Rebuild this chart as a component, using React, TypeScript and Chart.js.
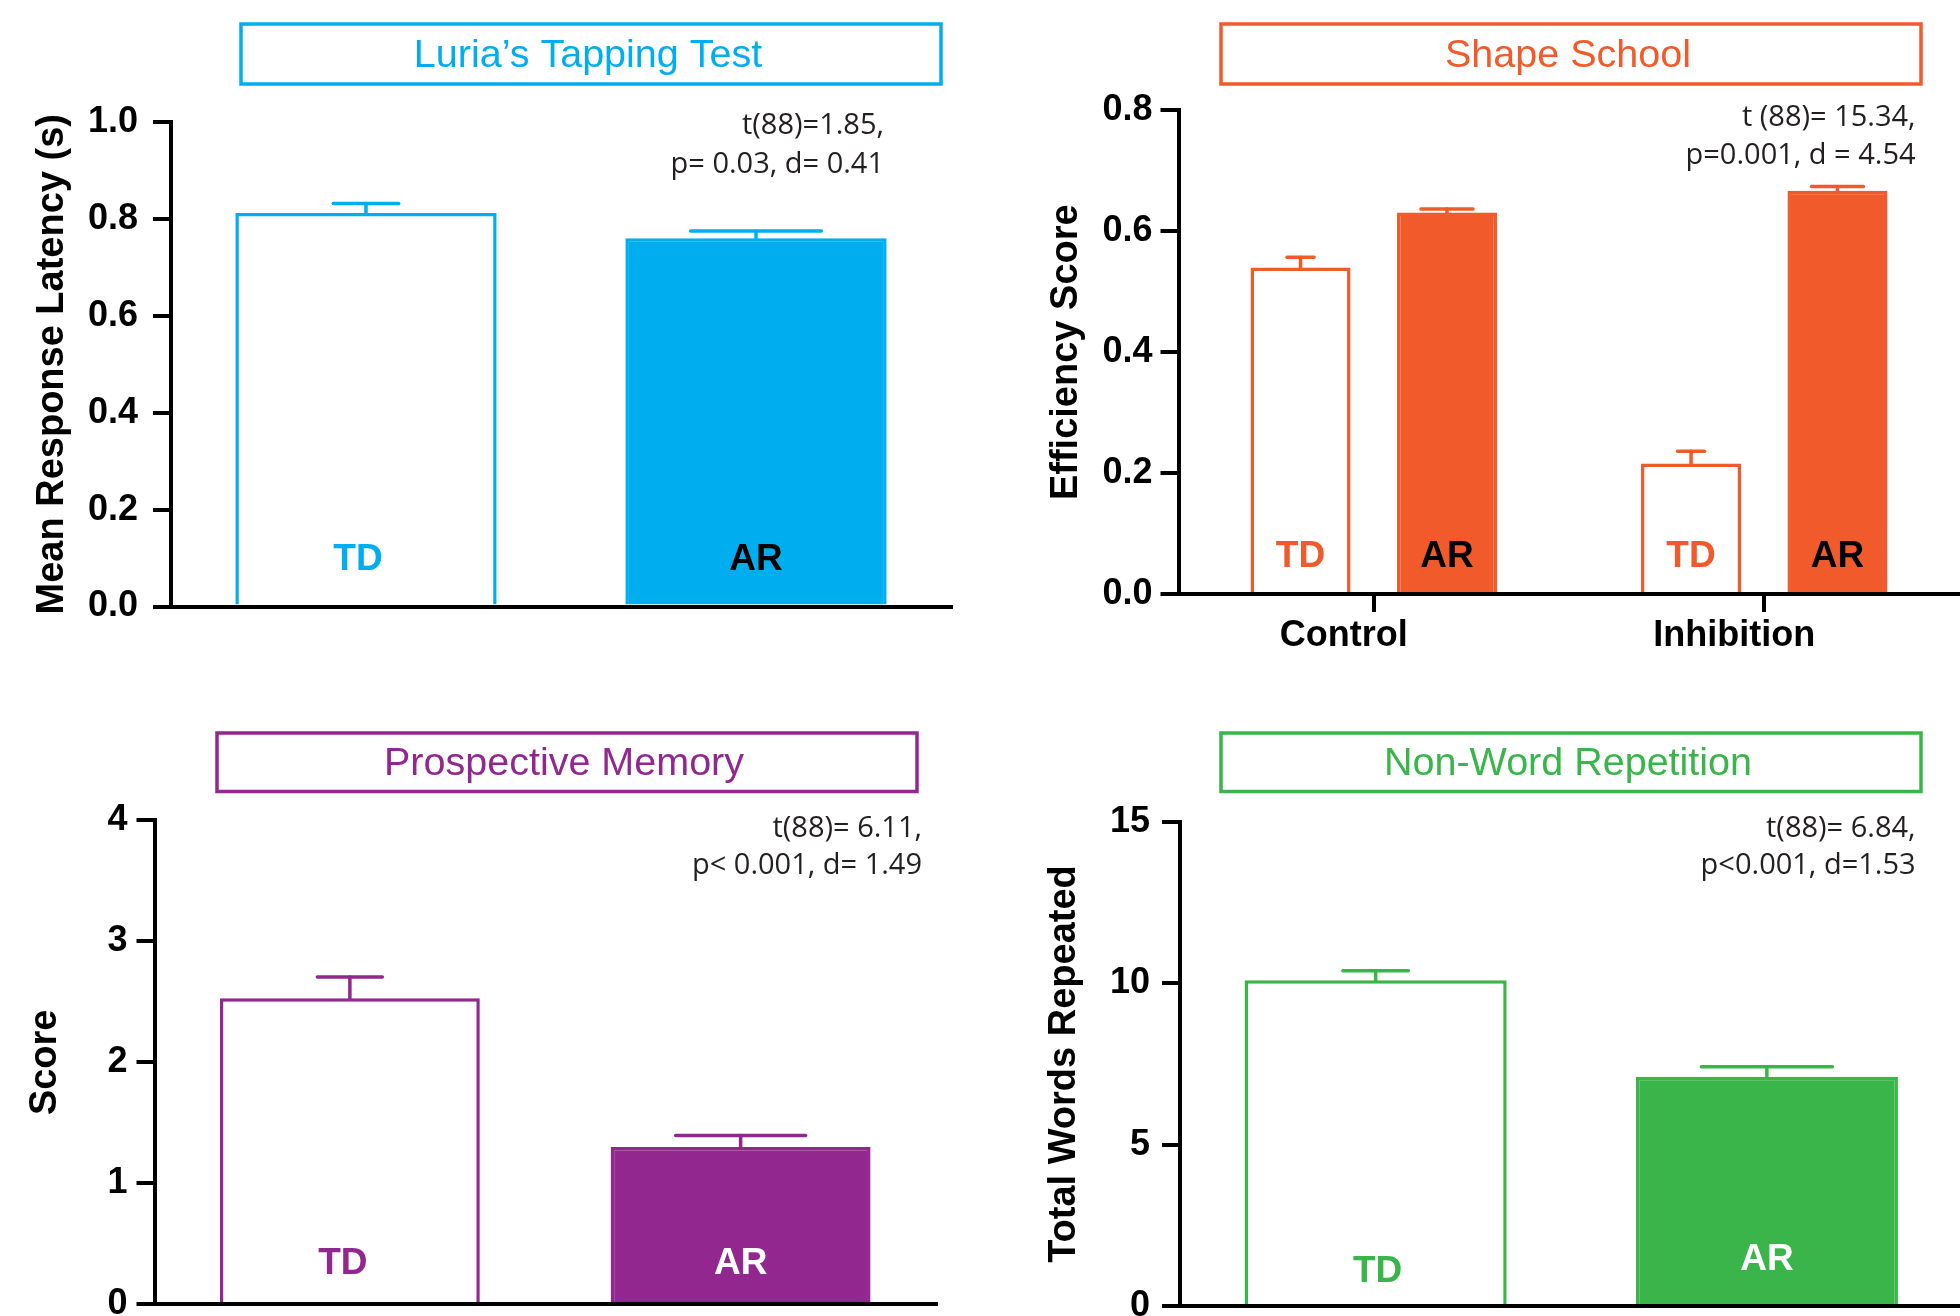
import React, { useEffect, useRef } from 'react';
import { Chart, registerables } from 'chart.js';

Chart.register(...registerables);

const FONT = '"Liberation Sans", Arial, Helvetica, sans-serif';
const STAT_FONT = '"Open Sans", "Noto Sans", sans-serif';

// ---------- data ----------
const groups = ['TD', 'AR'];

const luriaMeans = [0.812, 0.76];
const luriaSE = [0.02, 0.015];
const luriaTicks = ['0.0', '0.2', '0.4', '0.6', '0.8', '1.0'];
const luriaStats = ['t(88)=1.85,', 'p= 0.03, d= 0.41'];

const shapeConditions = ['Control', 'Inhibition'];
const shapeTD = [0.54, 0.216];
const shapeTDSE = [0.017, 0.02];
const shapeAR = [0.631, 0.667];
const shapeARSE = [0.006, 0.007];
const shapeTicks = ['0.0', '0.2', '0.4', '0.6', '0.8'];
const shapeStats = ['t (88)= 15.34,', 'p=0.001, d = 4.54'];

const pmMeans = [2.53, 1.3];
const pmSE = [0.175, 0.094];
const pmTicks = ['0', '1', '2', '3', '4'];
const pmStats = ['t(88)= 6.11,', 'p< 0.001, d= 1.49'];

const nwrMeans = [10.09, 7.11];
const nwrSE = [0.3, 0.31];
const nwrTicks = ['0', '5', '10', '15'];
const nwrStats = ['t(88)= 6.84,', 'p<0.001, d=1.53'];

// ---------- colours ----------
const BLUE = '#00AEEF';
const ORANGE = '#F15A2B';
const PURPLE = '#92278F';
const GREEN = '#39B54A';
const BLACK = '#000000';
const WHITE = '#FFFFFF';

type DS = {
  label: string;
  data: number[];
  se: number[];
  fill: string[];
  labelColor: string[];
  capFrac: number[];
  lift: number[];
  dx: number[];
};

type Panel = {
  key: string;
  pos: { left: number; top: number; width: number; height: number };
  area: { left: number; right: number; top: number; bottom: number };
  xHeight: number;
  color: string;
  title: string;
  titleBox: { x: number; y: number; w: number; h: number };
  yTitle: string;
  yTitlePad: number;
  yMin: number;
  yMax: number;
  yStep: number;
  yTickLabels: string[];
  tickPad: number;
  categories: string[];
  showCategoryAxis: boolean;
  datasets: DS[];
  barPct: number;
  catPct: number;
  stats: string[];
  statsRight: number;
  statsY: number[];
};

const panels: Panel[] = [
  {
    key: 'luria',
    pos: { left: 0, top: 0, width: 980, height: 658 },
    area: { left: 171, right: 951, top: 122, bottom: 606.5 },
    xHeight: 0,
    color: BLUE,
    title: 'Luria\u2019s Tapping Test',
    titleBox: { x: 241, y: 24, w: 700, h: 60 },
    yTitle: 'Mean Response Latency (s)',
    yTitlePad: 30,
    yMin: 0,
    yMax: 1,
    yStep: 0.2,
    yTickLabels: luriaTicks,
    tickPad: 15,
    categories: groups,
    showCategoryAxis: false,
    datasets: [
      {
        label: 'Luria',
        data: luriaMeans,
        se: luriaSE,
        fill: [WHITE, BLUE],
        labelColor: [BLUE, BLACK],
        capFrac: [0.25, 0.5],
        lift: [37, 37],
        dx: [-8, 0],
      },
    ],
    barPct: 0.67,
    catPct: 1,
    stats: luriaStats,
    statsRight: 884,
    statsY: [126, 165],
  },
  {
    key: 'shape',
    pos: { left: 980, top: 0, width: 990, height: 658 },
    area: { left: 198.5, right: 979.5, top: 110.4, bottom: 594 },
    xHeight: 64,
    color: ORANGE,
    title: 'Shape School',
    titleBox: { x: 241, y: 24, w: 700, h: 60 },
    yTitle: 'Efficiency Score',
    yTitlePad: 64,
    yMin: 0,
    yMax: 0.8,
    yStep: 0.2,
    yTickLabels: shapeTicks,
    tickPad: 8,
    categories: shapeConditions,
    showCategoryAxis: true,
    datasets: [
      {
        label: 'TD',
        data: shapeTD,
        se: shapeTDSE,
        fill: [WHITE, WHITE],
        labelColor: [ORANGE, ORANGE],
        capFrac: [0.27, 0.27],
        lift: [27, 27],
        dx: [0, 0],
      },
      {
        label: 'AR',
        data: shapeAR,
        se: shapeARSE,
        fill: [ORANGE, ORANGE],
        labelColor: [BLACK, BLACK],
        capFrac: [0.52, 0.52],
        lift: [27, 27],
        dx: [0, 0],
      },
    ],
    barPct: 0.683,
    catPct: 0.75,
    stats: shapeStats,
    statsRight: 935.6,
    statsY: [118, 155.5],
  },
  {
    key: 'pm',
    pos: { left: 0, top: 658, width: 980, height: 700 },
    area: { left: 154.5, right: 936, top: 162.4, bottom: 646.2 },
    xHeight: 0,
    color: PURPLE,
    title: 'Prospective Memory',
    titleBox: { x: 217, y: 75, w: 700, h: 58.5 },
    yTitle: 'Score',
    yTitlePad: 23,
    yMin: 0,
    yMax: 4,
    yStep: 1,
    yTickLabels: pmTicks,
    tickPad: 9,
    categories: groups,
    showCategoryAxis: false,
    datasets: [
      {
        label: 'Prospective Memory',
        data: pmMeans,
        se: pmSE,
        fill: [WHITE, PURPLE],
        labelColor: [PURPLE, WHITE],
        capFrac: [0.25, 0.5],
        lift: [30, 30],
        dx: [-7, 0],
      },
    ],
    barPct: 0.665,
    catPct: 1,
    stats: pmStats,
    statsRight: 922,
    statsY: [171, 207.7],
  },
  {
    key: 'nwr',
    pos: { left: 980, top: 658, width: 990, height: 700 },
    area: { left: 200, right: 982.5, top: 163.7, bottom: 648.4 },
    xHeight: 0,
    color: GREEN,
    title: 'Non-Word Repetition',
    titleBox: { x: 241, y: 75, w: 700, h: 58.5 },
    yTitle: 'Total Words Repeated',
    yTitlePad: 62,
    yMin: 0,
    yMax: 15,
    yStep: 5,
    yTickLabels: nwrTicks,
    tickPad: 12,
    categories: groups,
    showCategoryAxis: false,
    datasets: [
      {
        label: 'Non-Word Repetition',
        data: nwrMeans,
        se: nwrSE,
        fill: [WHITE, GREEN],
        labelColor: [GREEN, WHITE],
        capFrac: [0.25, 0.5],
        lift: [24, 36],
        dx: [2, 0],
      },
    ],
    barPct: 0.67,
    catPct: 1,
    stats: nwrStats,
    statsRight: 935.6,
    statsY: [171, 207.7],
  },
];

function buildChart(canvas: HTMLCanvasElement, p: Panel) {
  const decor = {
    id: 'decor_' + p.key,
    afterDatasetsDraw(chart: any) {
      const ctx = chart.ctx as CanvasRenderingContext2D;
      const yScale = chart.scales.y;
      ctx.save();
      p.datasets.forEach((ds, d) => {
        const meta = chart.getDatasetMeta(d);
        meta.data.forEach((el: any, i: number) => {
          const top = yScale.getPixelForValue(ds.data[i]);
          const errY = yScale.getPixelForValue(ds.data[i] + ds.se[i]);
          const capW = el.width * ds.capFrac[i];
          ctx.strokeStyle = p.color;
          ctx.lineWidth = 3.5;
          ctx.lineCap = 'round';
          ctx.beginPath();
          ctx.moveTo(el.x, top);
          ctx.lineTo(el.x, errY);
          ctx.stroke();
          ctx.beginPath();
          ctx.moveTo(el.x - capW / 2, errY);
          ctx.lineTo(el.x + capW / 2, errY);
          ctx.stroke();
          const text = p.showCategoryAxis ? ds.label : p.categories[i];
          ctx.fillStyle = ds.labelColor[i];
          ctx.font = `bold 37px ${FONT}`;
          ctx.textAlign = 'center';
          ctx.textBaseline = 'alphabetic';
          ctx.fillText(text, el.x + ds.dx[i], yScale.bottom - ds.lift[i]);
        });
      });
      ctx.restore();
    },
    afterDraw(chart: any) {
      const ctx = chart.ctx as CanvasRenderingContext2D;
      ctx.save();
      const b = p.titleBox;
      ctx.strokeStyle = p.color;
      ctx.lineWidth = 3.5;
      ctx.lineJoin = 'miter';
      ctx.strokeRect(b.x, b.y, b.w, b.h);
      ctx.fillStyle = p.color;
      ctx.font = `39.5px ${FONT}`;
      ctx.textAlign = 'center';
      ctx.textBaseline = 'middle';
      ctx.fillText(p.title, b.x + b.w / 2 - 3, b.y + b.h / 2 + 2);
      ctx.fillStyle = '#231F20';
      ctx.font = `29px ${STAT_FONT}`;
      ctx.textAlign = 'right';
      ctx.textBaseline = 'middle';
      p.stats.forEach((s, k) => ctx.fillText(s, p.statsRight, p.statsY[k]));
      ctx.restore();
    },
  };

  const datasets = p.datasets.map((ds) => ({
    label: ds.label,
    data: ds.data,
    backgroundColor: ds.fill,
    borderColor: p.color,
    borderWidth: 3.5,
    barPercentage: p.barPct,
    categoryPercentage: p.catPct,
  }));

  return new Chart(canvas, {
    type: 'bar',
    data: { labels: p.categories, datasets },
    options: {
      animation: false,
      responsive: false,
      devicePixelRatio: 1,
      layout: {
        padding: {
          left: 0,
          top: p.area.top,
          right: p.pos.width - p.area.right,
          bottom: p.pos.height - p.area.bottom - p.xHeight,
        },
      },
      plugins: {
        legend: { display: false },
        tooltip: { enabled: false },
        title: { display: false },
      },
      scales: {
        x: {
          type: 'category',
          offset: true,
          afterFit: (s: any) => {
            s.height = p.xHeight;
          },
          grid: {
            display: p.showCategoryAxis,
            drawOnChartArea: false,
            drawTicks: true,
            tickLength: 18,
            tickWidth: 4,
            lineWidth: 4,
            tickColor: BLACK,
            color: BLACK,
            offset: false,
          },
          border: { display: true, color: BLACK, width: 4, z: 1 },
          ticks: {
            display: p.showCategoryAxis,
            color: BLACK,
            padding: 2,
            labelOffset: -30,
            font: { family: FONT, size: 36, weight: 'bold' },
            maxRotation: 0,
          },
        },
        y: {
          type: 'linear',
          min: p.yMin,
          max: p.yMax,
          afterFit: (s: any) => {
            s.width = p.area.left;
          },
          grid: {
            display: true,
            drawOnChartArea: false,
            drawTicks: true,
            tickLength: 18,
            tickWidth: 4,
            lineWidth: 4,
            tickColor: BLACK,
            color: BLACK,
          },
          border: { display: true, color: BLACK, width: 4, z: 1 },
          ticks: {
            stepSize: p.yStep,
            color: BLACK,
            padding: p.tickPad,
            font: { family: FONT, size: 36, weight: 'bold' },
            callback: (_v: any, i: number) => p.yTickLabels[i],
          },
          title: {
            display: true,
            text: p.yTitle,
            color: BLACK,
            font: { family: FONT, size: 38, weight: 'bold', lineHeight: 1.2 },
            padding: { top: p.yTitlePad, bottom: 0 },
          },
        },
      },
    },
    plugins: [decor],
  } as any);
}

function PanelChart({ p }: { p: Panel }) {
  const ref = useRef<HTMLCanvasElement | null>(null);
  useEffect(() => {
    if (!ref.current) return;
    const chart = buildChart(ref.current, p);
    return () => chart.destroy();
  }, [p]);
  return (
    <canvas
      ref={ref}
      width={p.pos.width}
      height={p.pos.height}
      style={{
        position: 'absolute',
        left: p.pos.left,
        top: p.pos.top,
        width: p.pos.width,
        height: p.pos.height,
      }}
    />
  );
}

export default function App() {
  return (
    <div
      style={{
        position: 'absolute',
        left: 0,
        top: 0,
        width: 1960,
        height: 1316,
        overflow: 'hidden',
        background: '#FFFFFF',
      }}
    >
      {panels.map((p) => (
        <PanelChart key={p.key} p={p} />
      ))}
    </div>
  );
}
